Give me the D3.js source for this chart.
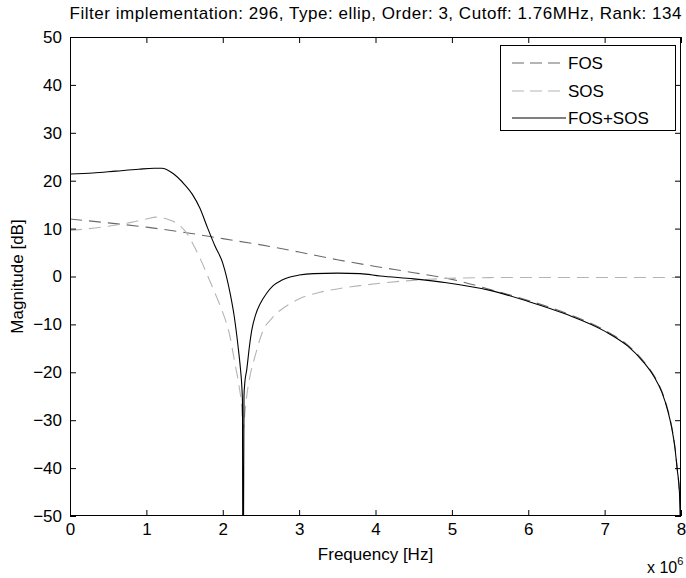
<!DOCTYPE html>
<html><head><meta charset="utf-8">
<script src="https://cdn.jsdelivr.net/npm/d3@7"></script>
<style>
body{margin:0;background:#fff;}
svg{display:block;}
text{font-family:"Liberation Sans","Arial",sans-serif;fill:#000;}
</style></head>
<body>
<div id="chart"></div>
<script>
const titleText = "Filter implementation: 296, Type: ellip, Order: 3, Cutoff: 1.76MHz, Rank: 134";
const xTicks = [0,1,2,3,4,5,6,7,8];
const yTicks = [-50,-40,-30,-20,-10,0,10,20,30,40,50];
const seriesNames = ["FOS","SOS","FOS+SOS"];

// frequency in MHz (x 10^6 Hz), magnitude in dB
const fosF  = [0,0.5,1.0,1.5,2.0,2.5,3.0,3.5,4.0,4.5,5.0,5.5,6.0,6.5,7.0,7.3,7.5,7.65,7.75,7.83,7.88,7.92,7.95,7.98,8.0];
const fosDb = [12.0,11.2,10.3,9.2,7.9,6.6,5.1,3.5,2.1,0.8,-0.6,-2.7,-5.0,-7.7,-11.2,-14.3,-17.5,-20.8,-24.0,-28.0,-31.5,-35.5,-40.0,-45.0,-50.0];

const sosF  = [0,0.5,0.8,1.0,1.13,1.27,1.44,1.53,1.61,1.7,1.79,1.92,2.007,2.08,2.16,2.21,2.248,2.268,2.29,2.313,2.36,2.42,2.53,2.64,2.75,2.88,3.01,3.27,3.535,3.8,4.06,4.49,4.93,5.4,5.8,8.0];
const sosDb = [9.6,10.5,11.3,12.0,12.4,12.0,10.6,9.0,6.8,3.9,0.6,-4.3,-7.8,-11.5,-18.2,-22.5,-27.2,-32.0,-28.5,-25.1,-20.5,-16.8,-11.2,-8.8,-7.1,-5.7,-4.6,-3.3,-2.5,-1.9,-1.4,-0.8,-0.4,-0.25,-0.2,-0.2];

const totF  = [0,0.3,0.6,0.9,1.1,1.2,1.35,1.5,1.6,1.7,1.8,1.9,2.0,2.1,2.15,2.2,2.23,2.25,2.258,2.263,2.27,2.278,2.29,2.313,2.35,2.38,2.43,2.49,2.57,2.66,2.77,2.88,3.0,3.19,3.5,3.8,4.06,4.5,4.93,5.5,6.0,6.5,7.0,7.3,7.5,7.65,7.75,7.83,7.88,7.92,7.95,7.98,8.0];
const totDb = [21.4,21.6,22.0,22.4,22.6,22.6,21.5,19.2,17.2,14.3,10.2,6.3,2.8,-3.8,-8.3,-14.5,-19.0,-23.0,-26.0,-60,-60,-25.0,-22.0,-19.6,-14.5,-11.2,-8.0,-5.7,-3.6,-1.9,-0.8,-0.1,0.3,0.6,0.7,0.6,0.1,-0.5,-1.3,-2.9,-5.2,-7.9,-11.4,-14.5,-17.7,-21.0,-24.2,-28.2,-31.7,-35.7,-40.2,-45.2,-60];

const W = 686, H = 578;
const m = {left:70, right:5, top:37, bottom:62};
const pw = W - m.left - m.right, ph = H - m.top - m.bottom;

const svg = d3.select("#chart").append("svg").attr("width",W).attr("height",H);
const x = d3.scaleLinear().domain([0,8]).range([m.left, m.left+pw]);
const y = d3.scaleLinear().domain([-50,50]).range([m.top+ph, m.top]);

svg.append("defs").append("clipPath").attr("id","clip")
  .append("rect").attr("x",m.left).attr("y",m.top).attr("width",pw).attr("height",ph);

const line = d3.line().x(d=>x(d[0])).y(d=>y(d[1])).curve(d3.curveMonotoneX);
const g = svg.append("g").attr("clip-path","url(#clip)");
const styles = [
  {f:fosF, v:fosDb, color:"#6a6a6a", dash:"12,7"},
  {f:sosF, v:sosDb, color:"#b4b4b4", dash:"12,7"},
  {f:totF, v:totDb, color:"#000000", dash:null}
];
styles.forEach(s=>{
  const p = g.append("path").datum(s.f.map((f,i)=>[f,s.v[i]]))
    .attr("d",line).attr("fill","none").attr("stroke",s.color).attr("stroke-width",1.1);
  if(s.dash) p.attr("stroke-dasharray",s.dash);
});

// axes
const tl = 6, fs = "17px";
const axB = svg.append("g").attr("transform",`translate(0,${m.top+ph})`)
  .call(d3.axisBottom(x).tickValues(xTicks).tickSize(-tl).tickPadding(8).tickFormat(d3.format("d")));
const axT = svg.append("g").attr("transform",`translate(0,${m.top})`)
  .call(d3.axisTop(x).tickValues(xTicks).tickSize(-tl).tickFormat(""));
const axL = svg.append("g").attr("transform",`translate(${m.left},0)`)
  .call(d3.axisLeft(y).tickValues(yTicks).tickSize(-tl).tickPadding(8).tickFormat(d3.format("d")));
const axR = svg.append("g").attr("transform",`translate(${m.left+pw},0)`)
  .call(d3.axisRight(y).tickValues(yTicks).tickSize(-tl).tickFormat(""));
[axB,axT,axL,axR].forEach(a=>{
  a.select(".domain").remove();
  a.selectAll("line").attr("stroke","#000");
  a.selectAll("text").style("font-size",fs).attr("fill","#000");
});
axB.selectAll("text").attr("y",7).attr("dy","0.71em");
svg.append("rect").attr("x",m.left+0.5).attr("y",m.top+0.5).attr("width",pw-1).attr("height",ph-1)
  .attr("fill","none").attr("stroke","#000").attr("stroke-width",1);

// labels
svg.append("text").attr("x",(m.left+m.left+pw)/2).attr("y",19).attr("text-anchor","middle")
  .attr("textLength",612).attr("lengthAdjust","spacing")
  .style("font-size",fs).text(titleText);
svg.append("text").attr("x",(m.left+m.left+pw)/2).attr("y",560).attr("text-anchor","middle")
  .style("font-size",fs).text("Frequency [Hz]");
svg.append("text").attr("transform",`translate(23,${m.top+ph/2}) rotate(-90)`).attr("text-anchor","middle")
  .style("font-size",fs).text("Magnitude [dB]");
const ex = svg.append("text").attr("x",647).attr("y",573).style("font-size","16px");
ex.append("tspan").text("x 10");
ex.append("tspan").attr("dy",-8).style("font-size","11px").text("6");

// legend
const lg = svg.append("g");
lg.append("rect").attr("x",500.5).attr("y",45.5).attr("width",175).attr("height",85)
  .attr("fill","#fff").attr("stroke","#000");
const ly = [63,91,118];
styles.forEach((s,i)=>{
  const l = lg.append("line").attr("x1",512).attr("x2",566).attr("y1",ly[i]).attr("y2",ly[i])
    .attr("stroke",s.color).attr("stroke-width",1.1);
  if(s.dash) l.attr("stroke-dasharray","12,6");
  lg.append("text").attr("x",568).attr("y",ly[i]).attr("dy","0.35em").style("font-size",fs).text(seriesNames[i]);
});
</script>
</body></html>
